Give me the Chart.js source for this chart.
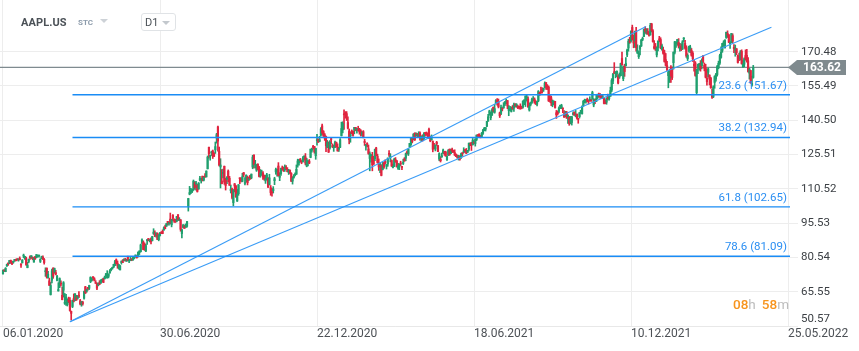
<!DOCTYPE html>
<html>
<head>
<meta charset="utf-8">
<script src="https://cdn.jsdelivr.net/npm/chart.js@4.4.1/dist/chart.umd.min.js"></script>
<style>
html,body{margin:0;padding:0;background:#fff;}
#wrap{position:relative;width:859px;height:351px;overflow:hidden;font-family:Roboto,"Open Sans",sans-serif;}
#c{position:absolute;left:0;top:0;}
.abs{position:absolute;white-space:nowrap;}
.tri{position:absolute;width:0;height:0;border-left:4px solid transparent;border-right:4px solid transparent;}
</style>
</head>
<body>
<div id="wrap">
<canvas id="c" width="859" height="351"></canvas>
<div class="abs" style="left:21px;top:16px;font:bold 11px Roboto;color:#4b5157;letter-spacing:0.1px;">AAPL.US</div>
<div class="abs" style="left:78px;top:18px;font:bold 8px Roboto;color:#8c9bab;">STC</div>
<div class="tri" style="left:100px;top:19px;border-top:4px solid #cdd2d7;"></div>
<div class="abs" style="left:141px;top:13px;width:33px;height:16px;border:1px solid #e0e3e6;border-radius:3px;background:#fff;"></div>
<div class="abs" style="left:145px;top:16px;font:11px Roboto;color:#4b5157;">D1</div>
<div class="tri" style="left:162px;top:21px;border-top:4px solid #c3c8cd;"></div>
<div class="abs" style="left:733px;top:296px;font:500 13.5px Roboto;"><span style="color:#f7941d">08</span><span style="color:#bcbcbc;font-weight:400">h</span><span style="margin-left:6px;color:#f7941d">58</span><span style="color:#bcbcbc;font-weight:400">m</span></div>
</div>
<script>
// ---- data: daily candles [open, high, low, close] ----
const candles2020 = [
[73.4,75.0,73.2,75.0],[75.0,75.2,74.4,74.6],[74.3,76.1,74.3,75.8],[76.8,77.6,76.6,77.4],[77.7,78.2,77.1,77.6],[77.9,79.3,77.8,79.2],[79.2,79.4,78.0,78.2],[78.0,78.9,77.4,77.8],[78.4,78.9,78.0,78.8],[79.1,79.7,78.8,79.7],[79.3,79.8,79.0,79.1],[79.6,80.0,79.3,79.4],[79.5,79.9,78.9,79.8],[80.1,80.8,79.4,79.6],[77.5,77.9,76.2,77.2],[78.2,79.6,78.1,79.4],[81.1,82.0,80.4,81.1],[80.1,81.0,79.7,81.0],[80.2,80.7,77.1,77.4],
[76.1,78.4,76.0,77.2],[78.8,79.9,78.2,79.7],[80.9,81.2,79.7,80.4],[80.6,81.3,80.1,81.3],[80.6,80.8,79.5,80.0],[78.5,80.4,78.5,80.4],[80.9,80.97,79.7,79.9],[80.4,81.8,80.4,81.8],[81.0,81.6,80.8,81.2],[81.2,81.5,80.7,81.2],[78.8,79.9,78.3,79.8],[80.0,81.1,80.0,80.9],[80.7,81.2,79.6,80.1],[79.7,80.1,77.6,78.3],[74.3,76.0,72.3,74.5],[75.9,75.9,71.5,72.0],[71.6,74.5,71.6,73.2],[70.3,71.5,68.2,68.4],[64.3,69.6,64.1,68.3],
[70.6,75.4,69.4,74.7],[75.9,76.0,71.4,72.3],[74.1,75.9,73.6,75.7],[73.9,74.9,72.9,73.2],[70.5,72.7,70.3,72.3],[65.9,69.5,65.8,66.5],[69.3,71.6,67.3,71.3],[69.3,70.3,67.96,68.9],[63.99,67.5,62.0,62.1],[66.2,69.98,63.2,69.5],[60.5,64.8,60.0,60.6],[61.9,64.4,59.6,63.2],[59.9,62.5,59.3,61.7],[61.8,63.2,60.7,61.2],[61.8,62.96,57.0,57.3],[57.0,57.1,53.2,56.1],[59.1,61.9,58.6,61.7],[62.7,64.6,61.1,61.4],[61.6,64.7,61.6,64.6],[63.2,63.97,61.8,61.9],[62.7,63.9,62.3,63.7],[63.9,65.6,63.0,63.6],
[61.6,62.2,59.8,60.2],[60.1,61.3,59.2,61.2],[60.7,61.4,59.7,60.4],[62.7,65.8,62.3,65.6],[67.7,67.9,64.8,64.9],[65.7,66.8,65.3,66.5],[67.2,67.5,66.2,67.0],[67.1,68.4,66.5,68.3],[70.0,72.1,69.5,71.8],[70.6,71.6,70.2,71.1],[71.8,72.1,70.6,71.7],[71.2,71.7,70.2,70.7],[69.5,70.4,69.2,69.2],[69.1,69.3,66.4,67.1],[68.4,69.5,68.1,69.0],[68.97,70.4,68.6,68.8],[69.3,70.75,69.25,70.7],[70.45,71.1,69.99,70.8],[71.3,71.5,69.55,69.6],[71.2,72.4,71.1,71.9],[72.5,73.6,71.6,73.4],
[71.6,74.75,71.5,72.3],[72.3,73.4,71.6,73.3],[73.8,75.25,73.6,74.4],[75.1,75.8,74.7,75.2],[75.8,76.3,75.4,75.9],[76.4,77.6,76.1,77.5],[77.0,79.3,77.0,78.75],[79.5,79.9,77.7,77.85],[78.0,78.99,75.8,76.9],[76.1,77.4,75.4,77.4],[75.1,76.97,75.05,76.9],[78.3,79.1,77.6,78.7],[78.8,79.6,78.25,78.3],[79.2,79.9,79.0,79.8],[79.7,80.2,78.97,79.2],[78.9,79.8,78.8,79.7],[80.9,81.1,79.1,79.2],[79.0,79.7,78.3,79.5],[79.2,80.9,79.1,79.6],[79.8,80.0,79.1,79.5],
[79.4,80.6,79.3,80.5],[80.2,80.9,79.9,80.8],[81.2,81.6,80.6,81.3],[81.1,81.4,80.2,80.6],[80.8,82.9,80.8,82.9],[82.6,83.4,81.8,83.4],[83.0,86.4,83.0,86.0],[86.97,88.7,86.5,88.2],[87.3,87.8,83.9,84.0],[86.2,86.9,83.6,84.7],[83.3,86.4,83.1,85.7],[87.9,88.3,86.2,88.0],[88.8,88.85,87.8,87.9],[87.85,88.4,87.3,87.9],[88.7,89.1,86.5,87.4],[87.8,89.8,87.8,89.7],[91.0,93.1,90.6,91.6],[91.25,92.2,89.6,90.0],[90.2,91.25,89.4,91.2],[91.1,91.3,88.3,88.4],[88.3,90.5,87.8,90.4],[90.0,91.5,90.0,91.2],
[91.3,91.8,90.98,91.0],[91.96,92.6,90.9,91.0],[92.5,93.9,92.5,93.5],[93.85,94.65,93.06,93.2],[94.2,95.4,94.1,95.3],[96.3,96.3,94.7,95.75],[95.3,95.98,94.7,95.9],[97.3,99.95,95.3,95.5],[94.8,97.25,93.9,97.1],[98.99,99.25,96.5,97.7],[96.6,97.4,95.9,96.5],[96.99,97.15,95.8,96.3],[96.4,98.5,96.1,98.4],[99.2,99.25,96.7,97.0],[96.7,97.97,96.6,97.3],[96.99,97.1,92.0,92.85],[90.99,92.97,89.1,92.6],[93.7,94.9,93.5,94.8],[94.4,94.55,93.25,93.25],[93.75,95.2,93.7,95.0],[94.2,96.3,93.77,96.2],[102.9,106.4,100.8,106.3],
[108.2,111.6,107.9,108.9],[109.1,110.8,108.4,109.7],[109.4,110.4,108.9,110.1],[110.4,114.4,109.8,113.9],[113.2,113.7,110.3,111.1],[112.6,113.8,110.0,112.7],[111.97,112.5,109.1,109.4],[110.5,113.3,110.3,113.0],[114.4,116.0,113.96,115.0],[114.8,115.0,113.05,114.9],[116.06,116.1,113.96,114.6],[114.35,116.0,114.0,115.6],[115.98,117.2,115.6,115.7],[115.75,118.4,115.7,118.3],[119.26,124.9,119.25,124.4],[128.7,128.8,123.9,125.9],[124.7,125.2,123.05,124.8],[126.2,126.99,125.1,126.5],[127.1,127.5,123.8,125.0],[126.0,126.4,124.6,124.8],[127.6,131.0,126.0,129.0],
[132.8,134.8,130.5,134.2],[137.6,137.98,127.0,131.4],[126.9,128.8,120.5,120.9],[120.1,123.7,110.9,120.96],[113.95,118.99,112.7,112.8],[117.26,119.14,115.26,117.3],[120.4,120.5,112.5,113.5],[114.6,115.2,110.0,112.0],[114.7,115.9,112.8,115.4],[118.3,118.8,113.6,115.5],[115.2,116.0,112.04,112.1],[109.7,112.2,108.7,110.3],[110.4,110.9,106.1,106.8],[104.5,110.2,103.1,110.1],[112.7,112.9,109.2,111.8],[111.6,112.1,106.8,107.1],[105.2,110.25,105.0,108.2],[108.4,112.4,107.7,112.3],[115.0,115.3,112.8,114.96],[114.55,115.3,113.6,114.1],[113.8,117.3,113.6,115.8],
[117.6,117.7,115.8,116.8],[112.9,115.4,112.2,113.0],[113.9,116.65,113.55,116.5],[115.7,116.1,112.25,113.2],[114.6,115.55,114.1,115.1],[116.25,116.4,114.6,114.97],[115.3,117.0,114.9,116.97],[120.06,125.2,119.3,124.4],[125.3,125.4,119.65,121.1],[121.0,123.0,119.6,121.2],[118.7,121.2,118.15,120.7],[121.3,121.5,118.8,119.0],[119.96,120.4,115.7,115.98],[116.2,118.98,115.6,117.5],[116.67,118.7,116.45,116.9],[117.45,118.04,114.6,115.75],[116.4,116.55,114.3,115.04],[114.0,116.55,112.9,115.05],[115.5,117.3,114.5,116.6],[115.05,115.4,111.1,111.2],[112.4,116.9,112.2,115.3],[111.06,111.99,107.7,108.9],
[109.1,110.7,107.3,108.8],[109.7,111.5,108.7,110.4],[114.1,115.6,112.35,114.95],[117.95,119.6,116.9,119.0],[118.3,119.2,116.1,118.7],[120.5,121.99,116.05,116.3],[115.55,117.6,114.1,115.97],[117.2,119.6,116.4,119.5],[119.6,120.5,118.6,119.2],[119.4,120.0,118.1,119.3],[118.9,120.99,118.15,120.3],[119.55,120.7,118.96,119.4],[118.6,119.8,118.0,118.0],[117.6,119.06,116.8,118.6],[118.6,118.8,117.3,117.3],[117.2,117.6,113.75,113.85],[113.9,115.85,112.6,115.2],[115.55,116.75,115.2,116.0],[116.6,117.5,116.2,116.6],[116.97,120.97,116.8,119.05],
[121.0,123.5,120.0,122.7],[122.0,123.4,120.9,123.1],[123.5,123.8,122.2,122.9],[122.6,122.9,121.5,122.25],[122.3,124.6,122.25,123.75],[124.4,124.98,123.1,124.4],[124.5,125.95,121.0,121.8],[120.5,123.9,120.15,123.2],[122.4,122.8,120.55,122.4],[122.6,123.35,121.5,121.8],[124.3,127.9,124.1,127.9],[127.4,128.4,126.6,127.8],[128.9,129.6,128.0,128.7],[128.96,129.1,126.1,126.7],[125.0,128.3,123.45,128.2],[131.6,134.4,129.65,131.9],[132.2,132.4,130.8,131.0],[131.3,133.5,131.1,132.0],[133.99,137.3,133.5,136.7],[138.05,138.8,134.3,134.9],[135.6,135.99,133.4,133.7],[134.1,134.7,131.7,132.7]
];
const candles2021 = [
[133.5,133.6,126.8,129.4],[128.9,131.7,128.4,131.0],[127.7,131.05,126.4,126.6],[128.4,131.6,127.9,130.9],[132.4,132.6,130.2,132.05],[129.2,130.2,128.5,129.0],[128.5,129.7,126.9,128.8],[128.8,131.45,128.5,130.9],[130.8,131.0,128.8,128.9],[128.8,130.2,127.0,127.1],[127.8,128.7,126.9,127.8],[128.7,132.5,128.55,132.0],[133.8,139.7,133.6,136.9],[136.3,139.85,135.0,139.1],[143.1,145.1,136.5,142.9],[143.6,144.3,141.4,143.2],[143.4,144.3,140.4,142.1],[139.5,141.99,136.7,137.1],[135.8,136.7,130.2,132.0],
[133.75,135.4,130.9,134.1],[135.7,136.3,134.6,135.0],[135.8,135.8,133.6,133.9],[136.3,137.4,134.6,137.4],[137.35,137.4,135.9,136.8],[136.0,136.96,134.9,136.9],[136.6,137.9,135.85,136.0],[136.5,136.99,134.4,135.4],[135.9,136.4,133.6,135.1],[134.35,135.5,133.7,135.4],[135.5,136.0,132.8,133.2],[131.25,132.2,129.5,130.8],[129.2,130.0,127.4,129.7],[130.2,130.7,128.8,129.9],[128.0,129.7,125.6,126.0],[123.8,126.7,118.4,125.9],[124.9,125.6,122.2,125.35],[124.7,126.5,118.4,121.0],[122.6,124.85,121.2,121.3],
[123.75,127.9,122.8,127.8],[128.4,128.7,125.0,125.1],[124.8,125.7,121.8,122.1],[121.75,123.6,118.6,120.1],[120.98,121.9,117.6,121.4],[120.9,121.0,116.2,116.4],[119.0,122.1,118.8,121.1],[121.7,122.2,119.45,120.0],[122.5,123.2,121.3,122.0],[120.4,121.2,119.2,121.0],[121.4,124.0,120.4,124.0],[125.7,127.2,124.7,125.6],[124.05,125.9,122.3,124.8],[122.9,123.2,120.3,120.5],[119.9,121.4,119.7,120.0],[120.3,123.9,120.3,123.4],[123.3,124.2,122.1,122.5],[122.8,122.9,120.1,120.1],[119.5,121.7,119.0,120.6],[120.35,121.5,118.9,121.2],[121.65,122.6,120.7,121.4],[120.1,120.4,118.9,119.9],[121.65,123.5,121.15,122.15],
[123.7,124.2,122.5,123.0],[123.9,126.2,122.8,125.9],[126.5,127.1,125.65,126.2],[125.8,128.0,125.1,127.9],[128.95,130.4,128.5,130.4],[129.8,133.0,129.5,133.0],[132.5,132.85,130.6,131.2],[132.4,134.7,131.9,134.4],[134.9,135.0,131.65,132.0],[133.8,135.0,133.6,134.5],[134.3,134.7,133.3,134.2],[133.5,135.5,133.3,134.8],[135.0,135.5,131.8,133.1],[132.4,133.75,131.3,133.5],[133.0,134.15,131.4,131.9],[132.2,135.1,132.2,134.3],[134.8,135.1,133.6,134.7],[135.0,135.4,133.9,134.4],[134.3,135.0,133.1,133.6],[136.5,137.1,132.45,133.5],[131.8,133.6,131.1,131.5],
[132.0,134.1,131.8,132.5],[131.2,131.5,126.7,127.85],[129.2,130.45,127.97,128.1],[127.9,129.75,127.1,129.7],[130.85,131.3,129.5,130.2],[129.4,129.5,126.8,126.85],[123.5,126.3,122.8,125.9],[123.4,124.6,122.25,122.8],[124.6,126.15,124.3,125.0],[126.25,127.9,125.85,127.45],[126.8,126.9,125.2,126.3],[126.6,126.99,124.8,124.85],[123.2,124.9,122.9,124.7],[125.2,127.7,125.1,127.3],[127.8,128.0,125.2,125.4],[126.0,127.9,125.85,127.1],[127.8,128.3,126.3,126.9],[126.96,127.4,126.4,126.85],[126.4,127.6,125.1,125.3],[125.6,125.8,124.55,124.6],
[125.1,125.35,123.9,124.3],[124.3,125.2,123.1,125.1],[124.7,124.85,123.1,123.5],[124.1,126.2,123.85,125.9],[126.2,126.3,124.8,125.9],[126.6,128.5,126.2,126.7],[127.2,127.75,126.5,127.1],[127.0,128.2,125.9,126.1],[126.5,127.4,126.4,127.35],[127.8,130.5,127.1,130.5],[129.9,130.6,129.4,129.6],[130.4,130.9,127.3,130.15],[129.8,132.55,129.65,131.8],[130.7,131.5,130.2,130.5],[130.3,132.4,129.2,132.3],[132.1,134.1,131.6,134.0],[133.8,134.3,133.2,133.7],[134.45,134.6,132.9,133.4],[133.5,133.9,132.8,133.1],[133.4,135.2,133.35,134.8],[134.8,136.5,134.35,136.3],[136.2,137.4,135.9,137.0],
[136.6,137.3,135.8,137.3],[137.9,140.0,137.75,140.0],[140.1,143.15,140.1,142.0],[143.5,144.9,142.7,144.6],[141.6,144.06,140.7,143.2],[142.75,145.65,142.65,145.1],[146.2,146.3,144.0,144.5],[144.0,147.5,143.6,145.6],[148.1,149.6,147.7,149.15],[149.2,150.0,147.1,148.5],[148.5,149.8,145.9,146.4],[143.75,144.1,141.7,142.45],[143.5,147.1,142.96,146.15],[145.5,146.1,144.6,145.4],[145.9,148.2,145.8,146.8],[147.55,148.7,146.9,148.6],[148.3,149.8,147.7,149.0],[149.1,149.2,145.55,146.8],[144.8,146.97,142.5,145.0],[144.7,146.55,144.6,145.6],[144.4,146.3,144.1,145.9],
[146.4,146.95,145.25,145.5],[145.8,148.0,144.4,147.4],[147.3,147.8,146.3,146.95],[146.98,147.8,146.2,147.06],[146.35,147.1,145.6,146.1],[146.2,146.7,145.5,146.1],[146.4,147.7,145.3,145.6],[146.05,146.7,145.5,145.9],[146.2,149.05,145.8,148.9],[148.97,149.4,147.3,149.1],[148.5,151.2,146.5,151.1],[150.2,151.7,149.1,150.2],[149.8,150.7,146.15,146.4],[145.0,148.0,144.5,146.7],[147.4,148.5,146.8,148.2],[148.3,150.2,147.9,149.7],[149.45,150.9,149.1,149.6],[149.8,150.3,147.9,148.4],[148.35,149.1,147.5,147.5],[147.5,148.75,146.8,148.6],[149.0,153.5,148.6,153.1],[152.7,152.8,151.3,151.8],
[152.8,155.0,152.3,152.5],[153.9,154.7,152.4,153.65],[153.8,154.6,153.1,154.3],[154.97,157.3,154.6,156.7],[156.98,157.0,153.98,155.1],[155.5,156.1,153.95,154.1],[155.0,155.5,148.7,149.0],[150.6,151.4,148.4,149.55],[150.35,151.1,146.9,148.1],[148.6,149.4,146.4,149.0],[148.4,148.97,147.2,148.8],[148.8,148.8,145.8,146.06],[143.8,144.8,141.3,142.9],[143.9,144.6,142.8,143.4],[144.45,146.4,143.7,145.85],[146.65,147.1,145.6,146.8],[145.7,147.5,145.6,146.9],[145.5,145.96,143.8,145.4],[143.25,144.75,141.7,141.9],[142.5,144.45,142.0,142.8],[143.7,144.4,141.3,141.5],
[141.9,142.9,139.1,142.65],[141.8,142.2,138.3,139.1],[139.5,142.2,138.9,141.1],[139.5,142.2,138.4,142.0],[143.1,144.2,142.7,143.3],[144.0,144.2,142.6,142.9],[142.3,144.8,142.0,142.8],[143.2,143.25,141.0,141.5],[141.2,141.4,139.2,140.9],[142.1,143.9,141.5,143.8],[143.8,144.9,143.5,144.8],[143.4,146.8,143.2,146.55],[147.0,149.2,146.55,148.8],[148.7,149.75,148.1,149.3],[148.8,149.6,148.0,149.5],[149.7,150.2,148.6,148.7],[148.7,149.4,147.6,148.6],[149.3,150.8,149.0,149.3],[149.4,149.7,148.8,148.85],[149.8,153.2,149.7,152.6],[147.2,149.9,146.4,149.8],
[148.99,149.7,147.8,148.96],[148.7,151.6,148.65,150.0],[150.4,151.97,149.8,151.5],[151.6,152.4,150.6,150.96],[151.9,152.2,150.06,151.3],[151.4,151.6,150.0,150.4],[150.2,151.4,150.06,150.8],[150.0,150.1,147.7,147.9],[148.96,149.4,147.7,147.9],[148.4,150.4,147.5,150.0],[150.4,151.9,149.4,150.0],[149.9,151.5,149.3,151.0],[151.0,155.0,150.99,153.5],[153.7,158.7,153.05,157.9],[157.65,161.0,156.5,160.55],[161.7,165.7,161.0,161.0],[161.1,161.8,159.06,161.4],[160.75,162.1,159.6,161.9],[159.6,160.45,156.4,156.8],[159.4,161.2,158.8,160.2],[159.99,165.5,159.9,165.3],
[167.5,170.3,164.5,164.8],[158.7,164.2,157.8,163.8],[164.0,164.96,159.7,161.8],[164.3,167.9,164.3,165.3],[169.1,171.6,168.3,171.2],[172.1,175.96,170.7,175.1],[174.9,176.75,174.1,174.6],[175.2,179.6,174.7,179.45],[181.1,182.1,175.5,175.7],[175.25,177.7,172.2,174.3],[175.1,179.5,172.3,179.3],[179.3,181.1,170.75,172.3],[169.9,173.5,169.7,171.1],[168.3,170.6,167.5,169.75],[171.6,173.2,169.1,173.0],[173.0,175.9,172.75,175.6],[175.85,176.85,175.3,176.3],[177.1,180.4,177.0,180.3],[180.2,181.3,178.5,179.3],[179.3,180.6,178.1,179.4],[179.5,180.6,178.1,178.2],[178.1,179.2,177.3,177.6]
];
const candles2022 = [
[177.8,182.9,177.7,182.0],[182.6,182.9,179.1,179.7],[179.6,180.2,174.6,174.9],[172.7,175.3,171.6,172.0],[172.9,174.1,171.0,172.2],[169.1,172.5,168.2,172.2],[172.3,175.2,170.8,175.1],[176.1,177.2,174.8,175.5],[175.8,176.6,171.8,172.2],[171.3,173.8,171.1,173.1],[171.5,172.5,169.4,169.8],[170.0,171.1,165.9,166.2],[166.98,169.7,164.2,164.5],[164.4,166.3,162.3,162.4],[160.0,162.3,154.7,161.6],[158.98,162.8,157.0,159.8],[163.5,164.4,157.0,159.7],[162.45,163.8,158.3,159.2],[165.7,170.35,162.8,170.3],[170.2,175.0,169.5,174.8],
[174.0,174.8,172.3,174.6],[174.75,175.9,173.3,175.8],[174.5,176.2,172.1,172.9],[171.7,174.1,170.7,172.4],[172.9,173.9,170.95,171.7],[171.7,175.35,171.4,174.8],[176.05,176.65,174.9,176.3],[174.1,175.5,171.55,172.1],[172.3,173.1,168.0,168.6],[167.4,169.6,166.6,168.9],[170.97,172.95,170.25,172.8],[171.85,173.3,170.05,172.55],[171.0,171.9,168.5,168.9],[169.8,170.5,166.2,167.3],[164.98,166.7,162.0,164.3],[165.5,166.15,159.75,160.1],[152.6,162.85,152.0,162.7],[163.8,165.1,160.9,164.85],[163.1,165.4,162.4,165.1],
[164.7,166.6,161.97,163.2],[164.4,167.4,162.95,166.6],[168.5,168.9,165.55,166.2],[164.5,165.55,162.1,163.2],[163.4,165.0,159.0,159.3],[158.8,162.9,155.8,157.4],[161.5,163.4,159.4,162.95],[160.2,160.4,155.98,158.5],[158.9,159.3,154.5,154.7],[151.45,154.1,150.1,150.6],[150.9,155.6,150.4,155.1],[157.05,160.0,154.5,159.6],[158.6,161.0,157.6,160.6],[160.5,164.5,159.8,164.0],[163.5,166.35,163.0,165.4],[165.5,169.4,164.9,168.8],[167.99,172.6,167.65,170.2],[171.1,174.1,170.2,174.1],[173.9,175.3,172.75,174.7],[172.2,175.7,172.0,175.6],[176.7,179.0,176.3,179.0],[178.55,179.6,176.7,177.8],[177.85,178.0,174.4,174.6],
[174.0,174.9,171.9,174.3],[174.6,178.5,174.4,178.4],[177.5,178.3,174.4,175.1],[172.4,173.6,170.1,171.8],[171.2,173.4,168.5,172.1],[171.8,171.8,169.2,170.1],[168.7,169.0,165.5,165.75],[168.0,169.9,166.6,167.7],[167.4,171.0,166.8,170.4],[170.6,171.3,165.0,165.3],[163.9,166.6,163.6,165.1],[165.0,167.8,163.9,167.4],[168.8,171.3,166.8,167.2],[168.9,171.5,165.9,166.4],[166.5,167.9,161.5,161.8],[161.1,163.2,158.5,162.9],[162.25,162.3,156.7,156.8],[155.9,159.8,155.4,156.6],[159.25,164.5,158.9,163.62]
];
// x-axis labels sit on these bar indices (every 122 bars)
const xTickIndex = [0, 122, 244, 366, 488, 610];
const xTickLabels = ['06.01.2020', '30.06.2020', '22.12.2020', '18.06.2021', '10.12.2021', '25.05.2022'];
// y-axis ticks
const yTickValues = [170.48, 155.49, 140.50, 125.51, 110.52, 95.53, 80.54, 65.55, 50.57];
// Fibonacci retracement levels
const fibPct = ['23.6', '38.2', '61.8', '78.6'];
const fibLevels = [151.67, 132.94, 102.65, 81.09];
const fibStartIndex = 54;
// trend lines [index, price]
const trendA = [[52, 52.4], [499.7, 181.5]];
const trendB = [[52, 52.4], [597.1, 181.15]];
const lastPrice = 163.62;

// ---- chart ----
const X_MIN = -2.331, X_MAX = 611.55;
const Y_MIN = 50.57, Y_MAX = 193.08;
const UP = '#1f9f6e', DOWN = '#e0243f';
const FIB_BLUE = '#1a8cf5', TREND_BLUE = '#3a9cf6';

const candles = [...candles2020, ...candles2021, ...candles2022];
const colors = candles.map(c => c[3] >= c[0] ? UP : DOWN);
const wickData = candles.map((c, i) => ({x: i, y: [c[2], c[1]]}));
const bodyData = candles.map((c, i) => ({x: i, y: [c[0], c[3]]}));

const lineDs = (pts, color, width, order) => ({
  type: 'line', data: pts.map(p => ({x: p[0], y: p[1]})),
  borderColor: color, borderWidth: width, pointRadius: 0, fill: false,
  tension: 0, order: order, clip: false
});

const datasets = [
  lineDs([[X_MIN, lastPrice], [X_MAX, lastPrice]], '#7f8b90', 1.3, 5),
  {type: 'bar', data: wickData, backgroundColor: colors, barThickness: 1, grouped: false, borderWidth: 0, order: 3},
  {type: 'bar', data: bodyData, backgroundColor: colors, barThickness: 1.5, grouped: false, borderWidth: 0, order: 2, minBarLength: 1},
  ...fibLevels.map(v => lineDs([[fibStartIndex, v], [X_MAX, v]], FIB_BLUE, 1.4, 1)),
  lineDs(trendA, TREND_BLUE, 1.1, 1),
  lineDs(trendB, TREND_BLUE, 1.1, 1)
];

const overlay = {
  id: 'overlay',
  afterDraw(chart) {
    const {ctx, chartArea: ca, scales: {y}} = chart;
    ctx.save();
    ctx.font = '11.5px Roboto';
    ctx.fillStyle = '#2a8ef2';
    ctx.textAlign = 'right';
    ctx.textBaseline = 'middle';
    fibLevels.forEach((v, i) => {
      ctx.fillText(fibPct[i] + ' (' + v.toFixed(2) + ')', ca.right - 3, y.getPixelForValue(v) - 9);
    });
    const py = y.getPixelForValue(lastPrice);
    ctx.fillStyle = '#7f8a8e';
    ctx.beginPath();
    ctx.moveTo(ca.right - 2, py);
    ctx.lineTo(ca.right + 7, py - 7.5);
    ctx.lineTo(ca.right + 56, py - 7.5);
    ctx.lineTo(ca.right + 56, py + 7.5);
    ctx.lineTo(ca.right + 7, py + 7.5);
    ctx.closePath();
    ctx.fill();
    ctx.fillStyle = '#ffffff';
    ctx.font = 'bold 12px Roboto';
    ctx.textAlign = 'center';
    ctx.fillText(lastPrice.toFixed(2), ca.right + 32, py + 0.5);
    ctx.restore();
  }
};

new Chart(document.getElementById('c'), {
  type: 'bar',
  data: {datasets},
  options: {
    responsive: false,
    animation: false,
    devicePixelRatio: 1,
    layout: {padding: 0, autoPadding: false},
    plugins: {legend: {display: false}, tooltip: {enabled: false}},
    scales: {
      x: {
        type: 'linear', min: X_MIN, max: X_MAX, offset: false,
        afterBuildTicks: s => { s.ticks = xTickIndex.map(v => ({value: v})); },
        afterFit: s => { s.height = 25; s.paddingLeft = 0; s.paddingRight = 0; },
        ticks: {
          align: 'start', padding: 1, autoSkip: false, maxRotation: 0,
          color: '#4d5156', font: {family: 'Roboto', size: 12},
          callback: v => xTickLabels[xTickIndex.indexOf(v)] || ''
        },
        grid: {color: '#ededed', lineWidth: 1, drawTicks: false, offset: false},
        border: {display: true, color: '#e8e8e8'}
      },
      y: {
        type: 'linear', position: 'right', min: Y_MIN, max: Y_MAX,
        afterBuildTicks: s => { s.ticks = yTickValues.map(v => ({value: v})); },
        afterFit: s => { s.width = 69; s.paddingTop = 0; s.paddingBottom = 0; },
        ticks: {
          padding: 3, color: '#3c4045', font: {family: 'Roboto', size: 11.5},
          // the bottom label is lifted above the axis line (two-line label, blank second line)
          callback: v => v === Y_MIN ? [Number(v).toFixed(2), ''] : Number(v).toFixed(2)
        },
        grid: {color: '#ededed', lineWidth: 1, tickLength: 8},
        border: {display: false}
      }
    }
  },
  plugins: [overlay]
});
</script>
</body>
</html>
